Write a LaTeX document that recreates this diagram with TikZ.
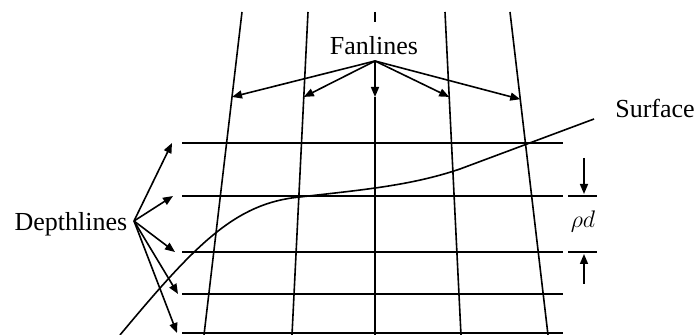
\documentclass[tikz,border=0pt]{standalone}
\usepackage{amsmath}
\usepackage{fontspec}
\setmainfont{Liberation Serif}
\usepackage{tikz}
\usetikzlibrary{arrows.meta,calc,positioning}

\begin{document}
\begin{tikzpicture}[x=0.5pt,y=-0.5pt,>={Triangle[length=5pt,width=4pt]},
  line width=0.8pt,font=\fontsize{13}{15}\selectfont]
  \useasboundingbox (0,0) rectangle (697,335);
  % fanlines
  \foreach \n/\xt/\xb in {1/242/204, 2/308/292, 4/445/461, 5/510/548} {
    \coordinate (ft\n) at (\xt,12);
    \coordinate (fb\n) at (\xb,335);
    \draw (ft\n) -- (fb\n);
  }
  \coordinate (ft3) at (375,12);
  \coordinate (fb3) at (375,335);
  \draw (ft3) -- (375,22);
  % depthlines
  \foreach \n/\y in {1/143, 2/196, 3/252, 4/294, 5/333} {
    \coordinate (dl\n) at (182,\y);
    \coordinate (dr\n) at (563,\y);
    \draw (dl\n) -- (dr\n);
  }
  \node (fan) at (374,46) {Fanlines};
  \node (depth) at (71,224) {Depthlines};
  \node (surf) at (655,108) {Surface};
  \coordinate (fsrc) at (375,61);
  \coordinate (dsrc) at (134,221);
  \coordinate (fm3) at (375,97);
  \draw[->] (fsrc) -- (fm3);
  \draw (fm3) -- (fb3);
  \foreach \n/\t in {1/0.263, 2/0.263, 4/0.263, 5/0.27}
    \draw[->] (fsrc) -- ($(ft\n)!\t!(fb\n)$);
  \foreach \n/\d in {1/-10, 2/-9, 3/-7, 4/-4, 5/-5}
    \draw[->] (dsrc) -- ($(dl\n)+(\d,0)$);
  % surface
  \draw (120,335) .. controls (195,245) and (235,203) .. (300,197)
    .. controls (360,190) and (410,186) .. (460,169) -- (594,119);
  % layer thickness
  \coordinate (rt) at (584,158);
  \coordinate (rb) at (584,284);
  \draw (568,196) -- (597,196);
  \draw (568,252) -- (597,252);
  \node (rho) at (583,222) {$\rho d$};
  \draw[->] (rt) -- (584,194);
  \draw[->] (rb) -- (584,254);
\end{tikzpicture}
\end{document}
